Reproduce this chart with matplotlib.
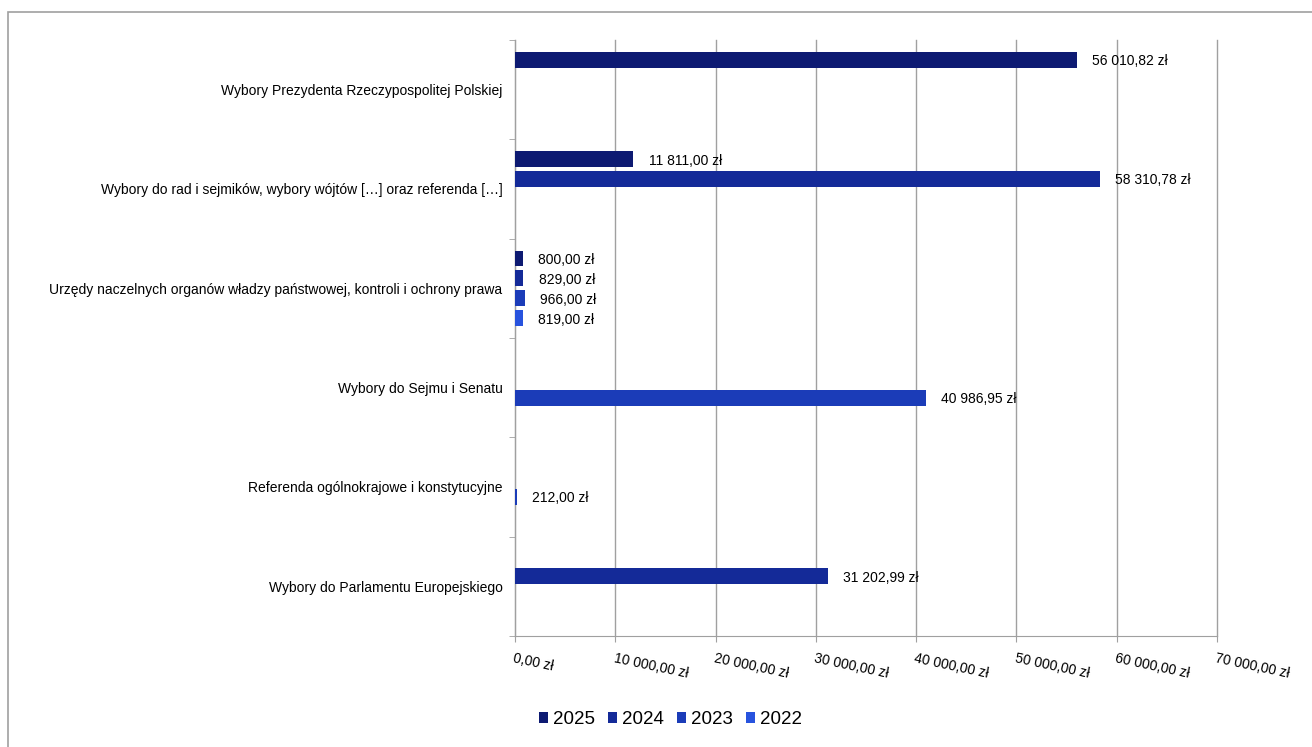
import numpy as np
import matplotlib
matplotlib.use("Agg")
import matplotlib.pyplot as plt
from matplotlib.patches import Rectangle

plt.rcParams['font.family'] = ['Liberation Sans', 'DejaVu Sans']

# --- Data ---
categories = [
    'Wybory Prezydenta Rzeczypospolitej Polskiej',
    'Wybory do rad i sejmików, wybory wójtów […] oraz referenda […]',
    'Urzędy naczelnych organów władzy państwowej, kontroli i ochrony prawa',
    'Wybory do Sejmu i Senatu',
    'Referenda ogólnokrajowe i konstytucyjne',
    'Wybory do Parlamentu Europejskiego',
]
years = ['2025', '2024', '2023', '2022']
colors = ['#0d1a72', '#142a98', '#1b3cb8', '#2853de']

# values per year, None = no bar
v2025 = [56010.82, 11811.00, 800.00, None, None, None]
v2024 = [None, 58310.78, 829.00, None, None, 31202.99]
v2023 = [None, None, 966.00, 40986.95, 212.00, None]
v2022 = [None, None, 819.00, None, None, None]
series = [v2025, v2024, v2023, v2022]

ticks = [0, 10000, 20000, 30000, 40000, 50000, 60000, 70000]


def fmt_pln(x):
    s = f'{x:,.2f}'
    s = s.replace(',', ' ').replace('.', ',')
    return s + ' zł'


fig = plt.figure(figsize=(13.12, 7.47), dpi=100)
ax = fig.add_axes([0.3925, 0.1486, 0.5351, 0.7979])

# outer frame (only top & left visible in the crop)
fig.patches.append(Rectangle((8 / 1312, -0.1), 1.2, (747 - 12) / 747 + 0.1,
                             transform=fig.transFigure, fill=False,
                             edgecolor='#a0a0a0', linewidth=1.2, zorder=0))

y = np.arange(len(categories))
offsets = [-0.3, -0.1, 0.1, 0.3]
bar_h = 0.16

for vals, off, col, lab in zip(series, offsets, colors, years):
    for i, v in enumerate(vals):
        if v is None:
            continue
        ax.barh(y[i] + off, v, height=bar_h, color=col, zorder=3)
        ax.annotate(fmt_pln(v), xy=(v, y[i] + off), xytext=(11, -1),
                    textcoords='offset points', ha='left', va='center',
                    fontsize=10, color='#000000')
    ax.barh(np.nan, 0, color=col, label=lab)

ax.set_xlim(0, 70000)
ax.set_ylim(len(categories) - 0.5, -0.5)

ax.set_xticks(ticks)
ax.set_xticklabels([fmt_pln(t) for t in ticks], rotation=-12, ha='left',
                   va='top', rotation_mode='anchor', fontsize=10)
ax.tick_params(axis='x', length=4, color='#a0a0a0', pad=7)

ax.set_yticks(y)
ax.set_yticklabels(categories, fontsize=10)
ax.tick_params(axis='y', which='major', length=0, pad=9)
ax.set_yticks(np.arange(-0.5, len(categories)), minor=True)
ax.tick_params(axis='y', which='minor', length=4, color='#a0a0a0')

ax.grid(axis='x', color='#a0a0a0', linewidth=1, zorder=0)
for line in ax.get_xgridlines():
    line.set_clip_on(False)
for s in ['top', 'right']:
    ax.spines[s].set_visible(False)
for s in ['left', 'bottom']:
    ax.spines[s].set_color('#a0a0a0')

fig.legend(loc='center', bbox_to_anchor=(0.511, 0.037), ncol=4, frameon=False,
           fontsize=13.5, handlelength=0.5, handleheight=0.5,
           handletextpad=0.25, columnspacing=0.7)

fig.savefig('out.png', dpi=100)
